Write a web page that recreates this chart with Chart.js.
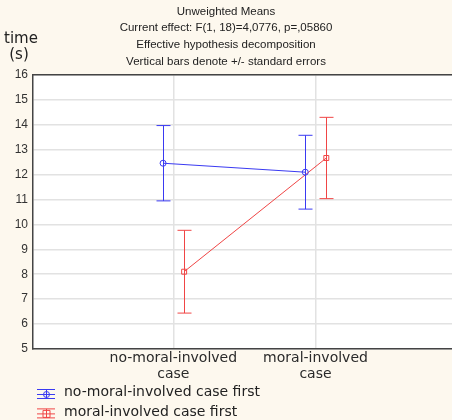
<!DOCTYPE html>
<html>
<head>
<meta charset="utf-8">
<script src="https://cdn.jsdelivr.net/npm/chart.js@4"></script>
<style>
html, body { margin: 0; padding: 0; background: #fdf8ee; }
canvas { display: block; }
</style>
</head>
<body>
<canvas id="meansChart" width="452" height="420"></canvas>
<script>
// data
const categories = [["no-moral-involved", "case"], ["moral-involved", "case"]];
const seriesNames = ["no-moral-involved case first", "moral-involved case first"];
const noMoralFirstMeans = [12.45, 12.09];
const noMoralFirstSE = [1.51, 1.48];
const moralFirstMeans = [8.1, 12.66];
const moralFirstSE = [1.66, 1.63];
const yTicks = [5, 6, 7, 8, 9, 10, 11, 12, 13, 14, 15, 16];
const titleLines = [
    "Unweighted Means",
    "Current effect: F(1, 18)=4,0776, p=,05860",
    "Effective hypothesis decomposition",
    "Vertical bars denote +/- standard errors"
];
const yLabel = ["time", "(s)"];

const BLUE = "#3a3af2";
const RED = "#f04545";
const CREAM = "#fdf8ee";
const FONT = "'DejaVu Sans', sans-serif";

function makeSeries(label, means, se, offset, color, style) {
    return {
        label: label,
        data: means.map((m, i) => ({ x: i + 1 + offset, y: m })),
        se: se,
        borderColor: color,
        backgroundColor: "rgba(0,0,0,0)",
        borderWidth: 1,
        pointStyle: style,
        pointRadius: style === "rect" ? 3.5 : 3,
        pointBorderColor: color,
        pointBorderWidth: 1,
        tension: 0,
    };
}

const backdrop = {
    id: "backdrop",
    beforeDraw(chart) {
        const { ctx, chartArea: a } = chart;
        ctx.save();
        ctx.fillStyle = CREAM;
        ctx.fillRect(0, 0, chart.width, chart.height);
        ctx.fillStyle = "#ffffff";
        ctx.fillRect(a.left, a.top, chart.width - a.left, a.bottom - a.top);
        ctx.restore();
    },
    afterDraw(chart) {
        const { ctx, chartArea: a } = chart;
        ctx.save();
        // top frame line
        ctx.strokeStyle = "#444";
        ctx.lineWidth = 1.5;
        ctx.beginPath();
        ctx.moveTo(a.left, a.top);
        ctx.lineTo(chart.width, a.top);
        ctx.stroke();
        // y axis label, horizontal, top left
        ctx.fillStyle = "#222";
        ctx.font = "15px " + FONT;
        ctx.textAlign = "center";
        ctx.textBaseline = "middle";
        ctx.fillText(yLabel[0], a.left - 12, a.top - 36);
        ctx.fillText(yLabel[1], a.left - 14, a.top - 20);
        ctx.restore();
    }
};

const errorBars = {
    id: "errorBars",
    afterDatasetsDraw(chart) {
        const { ctx } = chart;
        const xs = chart.scales.x, ys = chart.scales.y;
        ctx.save();
        ctx.lineWidth = 1;
        chart.data.datasets.forEach(ds => {
            ctx.strokeStyle = ds.borderColor;
            ds.data.forEach((p, i) => {
                const x = Math.round(xs.getPixelForValue(p.x)) + 0.5;
                const yt = ys.getPixelForValue(p.y + ds.se[i]);
                const yb = ys.getPixelForValue(p.y - ds.se[i]);
                ctx.beginPath();
                ctx.moveTo(x, yt); ctx.lineTo(x, yb);
                ctx.moveTo(x - 7, yt); ctx.lineTo(x + 7, yt);
                ctx.moveTo(x - 7, yb); ctx.lineTo(x + 7, yb);
                ctx.stroke();
            });
        });
        ctx.restore();
    }
};

const legendRows = {
    id: "legendRows",
    afterDraw(chart) {
        const { ctx, chartArea: a } = chart;
        ctx.save();
        chart.data.datasets.forEach((ds, i) => {
            const y = a.bottom + 45 + i * 19.4;
            const cx = 46;
            ctx.strokeStyle = ds.borderColor;
            ctx.lineWidth = 1;
            ctx.beginPath();
            ctx.moveTo(37, y - 4.5); ctx.lineTo(55, y - 4.5);
            ctx.moveTo(37, y + 0.5); ctx.lineTo(55, y + 0.5);
            ctx.moveTo(37, y + 4.5); ctx.lineTo(55, y + 4.5);
            ctx.moveTo(cx + 0.5, y - 4.5); ctx.lineTo(cx + 0.5, y + 4.5);
            ctx.stroke();
            ctx.beginPath();
            if (ds.pointStyle === "rect") ctx.rect(cx - 3, y - 3, 7, 7);
            else ctx.arc(cx + 0.5, y + 0.5, 3, 0, Math.PI * 2);
            ctx.stroke();
            ctx.fillStyle = "#222";
            ctx.font = "14px " + FONT;
            ctx.textAlign = "left";
            ctx.textBaseline = "middle";
            ctx.fillText(ds.label, 64, y - 1.5);
        });
        ctx.restore();
    }
};

new Chart(document.getElementById("meansChart").getContext("2d"), {
    type: "line",
    data: {
        datasets: [
            makeSeries(seriesNames[0], noMoralFirstMeans, noMoralFirstSE, -0.072, BLUE, "circle"),
            makeSeries(seriesNames[1], moralFirstMeans, moralFirstSE, 0.076, RED, "rect"),
        ],
    },
    options: {
        responsive: false,
        animation: false,
        layout: { autoPadding: false, padding: { top: 0, right: 0, bottom: 35, left: 0 } },
        plugins: {
            legend: { display: false },
            tooltip: { enabled: false },
            title: {
                display: true,
                text: titleLines,
                color: "#222",
                font: { family: "'Liberation Sans', Arial, sans-serif", size: 11.5, weight: "normal", lineHeight: 1.45 },
                padding: { top: 3, bottom: 5 },
            },
        },
        scales: {
            x: {
                type: "linear",
                min: 0.013,
                max: 2.96,
                afterBuildTicks: s => { s.ticks = categories.map((c, i) => ({ value: i + 1 })); },
                afterFit: s => { s.height = 36; },
                ticks: {
                    callback: v => categories[v - 1],
                    color: "#2a2a2a",
                    font: { family: FONT, size: 14, lineHeight: 1.18 },
                    padding: 1,
                    maxRotation: 0,
                },
                grid: { color: "#e2e2e2", lineWidth: 1.5, drawTicks: false },
                border: { color: "#444", width: 1.5 },
            },
            y: {
                min: yTicks[0],
                max: yTicks[yTicks.length - 1],
                afterBuildTicks: s => { s.ticks = yTicks.map(v => ({ value: v })); },
                afterFit: s => { s.width = 33; },
                ticks: {
                    color: "#333",
                    font: { family: "'Liberation Sans', Arial, sans-serif", size: 12 },
                    padding: 5,
                },
                grid: { color: "#e2e2e2", lineWidth: 1.5, drawTicks: false },
                border: { color: "#444", width: 1.5 },
            },
        },
    },
    plugins: [backdrop, errorBars, legendRows],
});
</script>
</body>
</html>
